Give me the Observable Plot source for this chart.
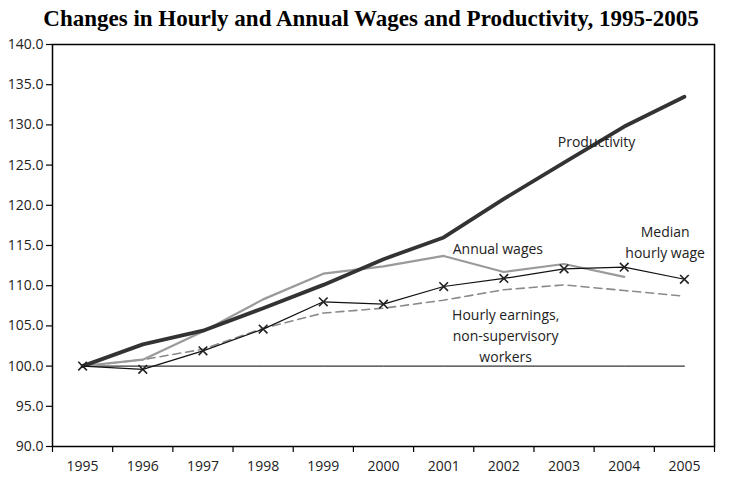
<!DOCTYPE html>
<html>
<head>
<meta charset="utf-8">
<script src="https://cdn.jsdelivr.net/npm/d3@7"></script>
<script src="https://cdn.jsdelivr.net/npm/@observablehq/plot@0.6"></script>
<style>
  html, body { margin: 0; padding: 0; background: #fff; }
  #title { height: 28px; width: 742px; text-align: center; font-family: "Liberation Serif", serif; font-weight: bold; font-size: 23px; line-height: 38px; color: #000; white-space: nowrap; overflow: visible; }
  #chart svg { display: block; }
</style>
</head>
<body>
<div id="title">Changes in Hourly and Annual Wages and Productivity, 1995-2005</div>
<div id="chart"></div>
<script>
const years = [1995, 1996, 1997, 1998, 1999, 2000, 2001, 2002, 2003, 2004, 2005];
const productivity   = [100, 102.7, 104.4, 107.2, 110.1, 113.3, 116.0, 120.8, 125.3, 129.8, 133.5];
const annualWages    = [100, 100.8, 104.3, 108.3, 111.5, 112.4, 113.7, 111.7, 112.7, 111.1];
const medianHourly   = [100, 99.6, 101.9, 104.6, 108.0, 107.7, 109.9, 110.9, 112.1, 112.3, 110.8];
const hourlyEarnings = [100, 100.8, 102.1, 104.7, 106.6, 107.2, 108.2, 109.5, 110.1, 109.4, 108.7];
const baseline       = [100, 100, 100, 100, 100, 100, 100, 100, 100, 100, 100];
const yTicks = [90, 95, 100, 105, 110, 115, 120, 125, 130, 135, 140];
const xBounds = [1994.5, 1995.5, 1996.5, 1997.5, 1998.5, 1999.5, 2000.5, 2001.5, 2002.5, 2003.5, 2004.5, 2005.5];

const labels = [
  {x: 2003.54, y: 128.1, text: "Productivity"},
  {x: 2001.9, y: 114.8, text: "Annual wages"},
  {x: 2004.68, y: 115.6, text: "Median\nhourly wage"},
  {x: 2002.03, y: 104.0, text: "Hourly earnings,\nnon-supervisory\nworkers"}
];

const toRows = (vals) => vals.map((v, i) => ({year: years[i], value: v}));

const chart = Plot.plot({
  width: 732,
  height: 462,
  marginLeft: 52,
  marginRight: 18,
  marginTop: 16,
  marginBottom: 44,
  style: {fontFamily: "'Open Sans', sans-serif", fontSize: "14px", color: "#222", background: "transparent"},
  x: {type: "linear", domain: [1994.5, 2005.5]},
  y: {domain: [90, 140]},
  marks: [
    Plot.axisY({ticks: yTicks, tickFormat: d => d.toFixed(1), tickSize: 6, tickPadding: 3, stroke: "#000", strokeWidth: 1.2, fill: "#222", fontSize: 14}),
    Plot.axisX({ticks: xBounds, tickSize: 6, tickFormat: () => "", stroke: "#000", strokeWidth: 1.2}),
    Plot.axisX({ticks: years, tickSize: 0, tickPadding: 15, tickFormat: d => String(d), fill: "#222", fontSize: 14}),
    Plot.line(toRows(baseline), {x: "year", y: "value", stroke: "#000", strokeWidth: 1}),
    Plot.line(toRows(hourlyEarnings), {x: "year", y: "value", stroke: "#8a8a8a", strokeWidth: 1.6, strokeDasharray: "8,5"}),
    Plot.line(toRows(annualWages), {x: "year", y: "value", stroke: "#9a9a9a", strokeWidth: 2.2}),
    Plot.line(toRows(productivity), {x: "year", y: "value", stroke: "#333", strokeWidth: 3.8}),
    Plot.line(toRows(medianHourly), {x: "year", y: "value", stroke: "#111", strokeWidth: 1.2}),
    Plot.dot(toRows(medianHourly), {x: "year", y: "value", symbol: "times", r: 4, stroke: "#222", strokeWidth: 1.6}),
    Plot.text(labels, {x: "x", y: "y", text: "text", lineHeight: 1.5, fill: "#222", fontSize: 14}),
    Plot.frame({stroke: "#000", strokeWidth: 1.5})
  ]
});
document.getElementById("chart").appendChild(chart);
</script>
</body>
</html>
